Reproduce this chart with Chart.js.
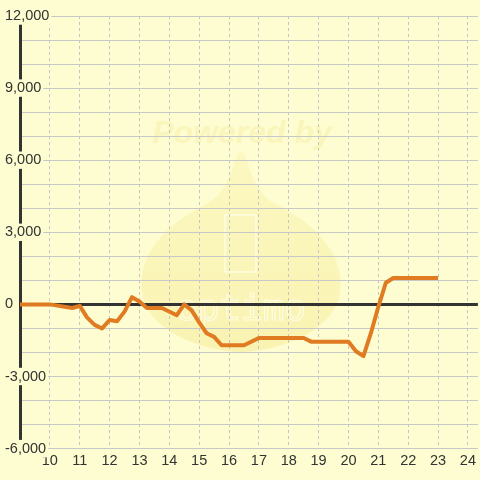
<!DOCTYPE html>
<html>
<head>
<meta charset="utf-8">
<script src="https://cdn.jsdelivr.net/npm/chart.js@4/dist/chart.umd.min.js"></script>
<style>
  html, body { margin: 0; padding: 0; background: #fdfdd1; }
  #wrap { width: 480px; height: 480px; }
</style>
</head>
<body>
<div id="wrap"><canvas id="balanceChart" width="480" height="480"></canvas></div>
<script>
// Time of day (hours) and running balance
const hours = [9, 10, 10.75, 11, 11.25, 11.5, 11.75, 12, 12.25, 12.5, 12.75, 13, 13.25, 13.75,
               14.25, 14.5, 14.75, 15, 15.25, 15.5, 15.75, 16.5, 17, 18.5, 18.75, 20,
               20.25, 20.5, 20.75, 21, 21.25, 21.5, 23];
const balance = [0, 0, -150, -60, -550, -850, -1000, -650, -700, -300, 300, 120, -150, -150,
                 -450, 0, -250, -750, -1200, -1350, -1700, -1700, -1400, -1400, -1550, -1550,
                 -1950, -2150, -1200, -100, 900, 1100, 1100];
const yMin = -6000;
const yMax = 12000;
const yLabelEvery = 3000;   // only every 3rd grid line gets a label

const bgColor = '#fdfdd1';
const lineColor = '#e07b22';
const fontFamily = '"Liberation Sans", Arial, sans-serif';

// background + faint "Powered by" watermark, drawn under the grid
const watermark = {
    id: 'watermark',
    beforeDraw(chart) {
        const c = chart.ctx;
        c.save();
        c.fillStyle = bgColor;
        c.fillRect(0, 0, chart.width, chart.height);

        // drop shape, a bit stronger towards the bottom
        const g = c.createLinearGradient(0, 152, 0, 352);
        g.addColorStop(0, 'rgba(240, 215, 90, 0.14)');
        g.addColorStop(1, 'rgba(240, 215, 90, 0.26)');
        c.beginPath();
        c.moveTo(241, 152);
        c.bezierCurveTo(233, 152, 234, 188, 208, 203);
        c.bezierCurveTo(150, 232, 136, 268, 143, 298);
        c.bezierCurveTo(155, 338, 215, 352, 241, 352);
        c.bezierCurveTo(267, 352, 327, 338, 339, 298);
        c.bezierCurveTo(346, 268, 332, 232, 274, 203);
        c.bezierCurveTo(248, 188, 249, 152, 241, 152);
        c.closePath();
        c.fillStyle = g;
        c.fill();

        c.font = 'bold italic 32px ' + fontFamily;
        c.textAlign = 'center';
        c.textBaseline = 'alphabetic';
        c.fillStyle = 'rgba(240, 215, 100, 0.2)';
        c.fillText('Powered by', 242, 143);

        // little phone outline and logo letters
        c.strokeStyle = 'rgba(255, 255, 240, 0.75)';
        c.lineWidth = 1.5;
        c.strokeRect(225, 215, 31, 57);
        c.font = '36px "DejaVu Sans Mono", monospace';
        c.lineWidth = 1.2;
        c.strokeText('optimo', 241, 320);
        c.restore();
    }
};

const ctx = document.getElementById('balanceChart').getContext('2d');

const balanceChart = new Chart(ctx, {
    type: 'line',
    data: {
        datasets: [{
            data: hours.map((h, i) => ({ x: h, y: balance[i] })),
            borderColor: lineColor,
            borderWidth: 4,
            borderJoinStyle: 'round',
            pointRadius: 0,
            tension: 0,
            fill: false
        }]
    },
    options: {
        responsive: false,
        animation: false,
        layout: { padding: { top: 16, left: 5, right: 0, bottom: 6 } },
        plugins: {
            legend: { display: false },
            tooltip: { enabled: false }
        },
        scales: {
            x: {
                type: 'linear',
                min: 9,
                max: 9 + 460 / 30,
                border: { display: false, dash: [3, 3] },   // dash also applies to the grid lines
                grid: {
                    drawTicks: false,
                    color: '#c4c4c4',
                    lineWidth: 1
                },
                ticks: {
                    stepSize: 1,
                    includeBounds: false,
                    autoSkip: false,
                    maxRotation: 0,
                    padding: 4,
                    color: '#333',
                    font: { family: fontFamily, size: 14.5 },
                    callback: (v) => (v < 10 ? '' : String(v))
                }
            },
            y: {
                min: yMin,
                max: yMax,
                // labels sit over the plot, so keep the axis box narrow
                afterFit: (scale) => { scale.width = 15; },
                border: { display: true, color: '#333', width: 3 },
                grid: {
                    drawTicks: false,
                    color: (c) => (c.tick && c.tick.value === 0 ? '#333' : '#c8c8c8'),
                    lineWidth: (c) => (c.tick && c.tick.value === 0 ? 3 : 1)
                },
                ticks: {
                    stepSize: 1000,
                    autoSkip: false,
                    mirror: true,
                    padding: -15,
                    color: '#333',
                    font: { family: fontFamily, size: 14.5 },
                    showLabelBackdrop: (c) => c.tick.value % yLabelEvery === 0,
                    backdropColor: bgColor,
                    backdropPadding: { left: 1, right: 2, top: 0, bottom: 0 },
                    callback: (v) => (v % yLabelEvery === 0 ? v.toLocaleString('en-US') : '')
                }
            }
        }
    },
    plugins: [watermark]
});
</script>
</body>
</html>
